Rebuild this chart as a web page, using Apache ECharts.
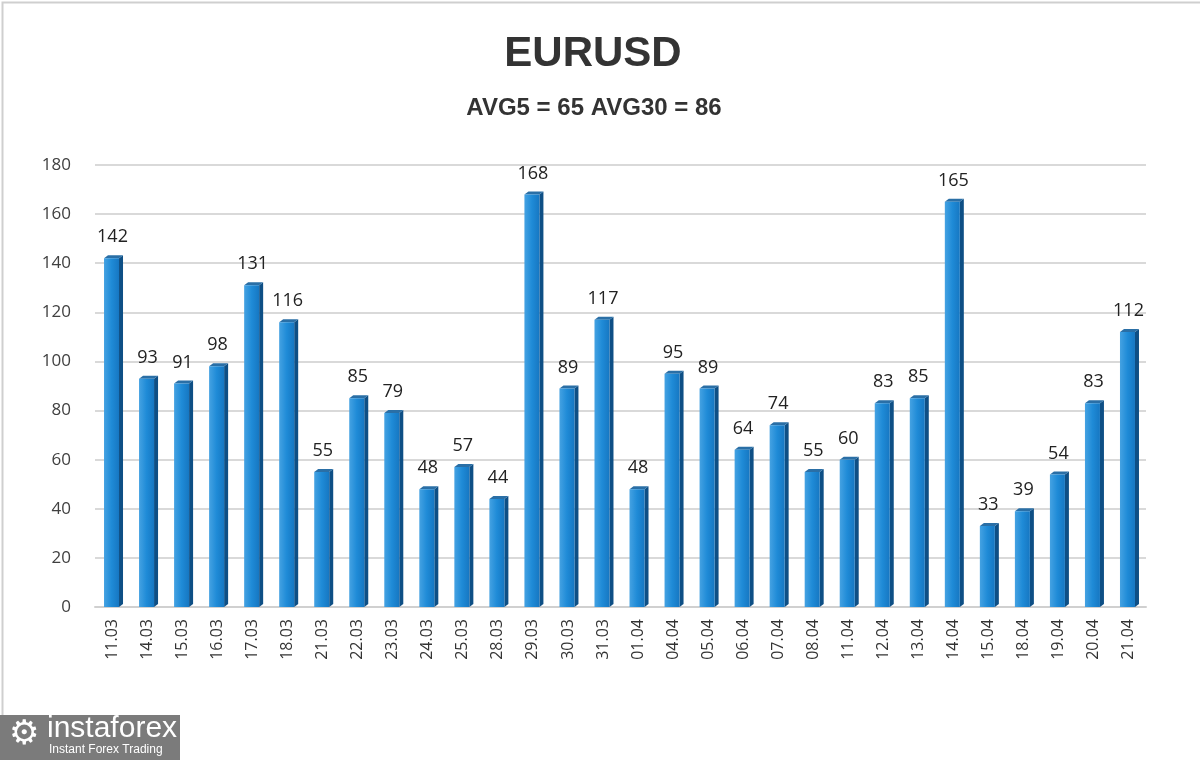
<!DOCTYPE html>
<html><head><meta charset="utf-8">
<script src="https://cdn.jsdelivr.net/npm/echarts@6/dist/echarts.min.js"></script>
<style>html,body{margin:0;padding:0;background:#fff}#c{width:1200px;height:760px}</style>
</head><body><div id="c"></div>
<script>
const categories = ['11.03','14.03','15.03','16.03','17.03','18.03','21.03','22.03','23.03','24.03','25.03','28.03','29.03','30.03','31.03','01.04','04.04','05.04','06.04','07.04','08.04','11.04','12.04','13.04','14.04','15.04','18.04','19.04','20.04','21.04'];
const values = [142,93,91,98,131,116,55,85,79,48,57,44,168,89,117,48,95,89,64,74,55,60,83,85,165,33,39,54,83,112];
const yTicks = [0,20,40,60,80,100,120,140,160,180];

const chart = echarts.init(document.getElementById('c'), null, {renderer:'canvas'});
const frontGrad = new echarts.graphic.LinearGradient(0,0,1,0,[
  {offset:0,color:'#45a2e2'},{offset:0.5,color:'#1f8bd7'},{offset:1,color:'#1677c2'}]);
chart.setOption({
  backgroundColor:'#fff',
  animation:false,
  title:[
    {text:'EURUSD', left:588, textAlign:'center', top:28, textStyle:{fontFamily:'Liberation Sans', fontWeight:'bold', fontSize:42, color:'#333'}},
    {text:'AVG5 = 65 AVG30 = 86', left:589, textAlign:'center', top:91, textStyle:{fontFamily:'Liberation Sans', fontWeight:'bold', fontSize:24, color:'#333'}}
  ],
  grid:{left:95, right:54, top:165, bottom:153},
  xAxis:{type:'category', data:categories, axisLine:{show:true, lineStyle:{color:'#d0d0d0', width:2}}, axisTick:{show:false},
    axisLabel:{rotate:90, margin:12, fontFamily:'Open Sans', fontSize:16, color:'#333', interval:0}},
  yAxis:{type:'value', min:0, max:180, interval:20, axisLine:{show:false}, axisTick:{show:false},
    axisLabel:{margin:24, fontFamily:'Open Sans', fontSize:17, color:'#404040',
      formatter:v=> yTicks.includes(v) ? String(v) : ''},
    splitLine:{lineStyle:{color:'#d9d9d9', width:2}}},
  series:[{
    type:'custom',
    data: values.map((v,i)=>[i,v]),
    renderItem(params, api){
      const v = api.value(1);
      const top = api.coord([api.value(0), v]);
      const base = api.coord([api.value(0), 0]);
      const w = 15, d = 4, dy = 3;
      const x0 = top[0] - w/2 - 1;
      return {type:'group', children:[
        {type:'polygon', shape:{points:[[x0+w, top[1]],[x0+w+d, top[1]-dy],[x0+w+d, base[1]-dy],[x0+w, base[1]]]}, style:{fill:'#0e4f85'}},
        {type:'polygon', shape:{points:[[x0, top[1]],[x0+d, top[1]-dy],[x0+w+d, top[1]-dy],[x0+w, top[1]]]}, style:{fill:'#2a6fa6'}},
        {type:'rect', shape:{x:x0, y:top[1], width:w, height:base[1]-top[1]}, style:{fill:frontGrad}},
        {type:'text', x: top[0], y: top[1]-12, style:{text:String(v), align:'center', verticalAlign:'bottom', fontFamily:'Open Sans', fontSize:18, fill:'#222'}}
      ]};
    }
  }],
  graphic:[
    {type:'rect', left:0, top:0, shape:{x:0,y:0,width:1199,height:759}, style:{fill:null, stroke:'#cfcfcf', lineWidth:2}, silent:true},
    {type:'rect', left:0, top:715, shape:{width:180, height:45}, style:{fill:'#7b7b7b'}},
    {type:'text', left:47, top:714, style:{text:'instaforex', fontFamily:'Liberation Sans', fontSize:30, fill:'#fff'}},
    {type:'text', left:49, top:744, style:{text:'Instant Forex Trading', fontFamily:'Liberation Sans', fontSize:12, fill:'#fff'}},
    {type:'text', left:9, top:718, style:{text:'\u2699', fontFamily:'DejaVu Sans', fontSize:34, fill:'#fff'}}
  ]
});
</script></body></html>
